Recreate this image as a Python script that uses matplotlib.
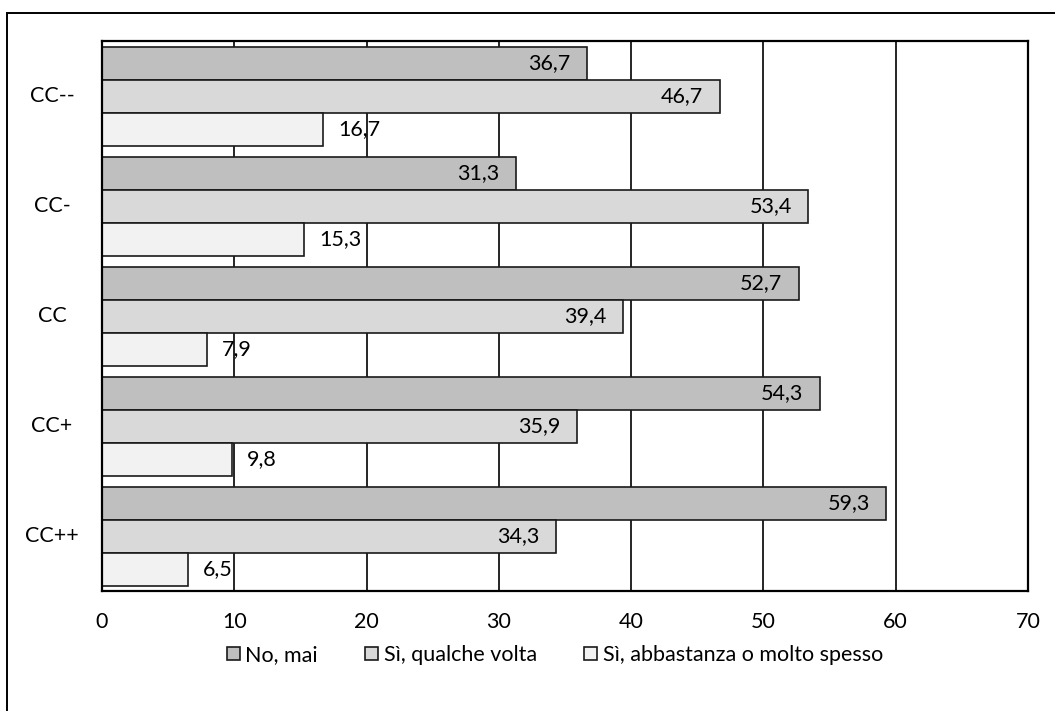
import numpy as np
import matplotlib
matplotlib.use("Agg")
import matplotlib.pyplot as plt
from matplotlib.patches import Rectangle
from matplotlib.transforms import blended_transform_factory

# -----------------------------------------------------
# Data
# -----------------------------------------------------
categories = ["CC--", "CC-", "CC", "CC+", "CC++"]
series_names = ["No, mai", "Sì, qualche volta", "Sì, abbastanza o molto spesso"]
no_mai = [36.7, 31.3, 52.7, 54.3, 59.3]
qualche_volta = [46.7, 53.4, 39.4, 35.9, 34.3]
spesso = [16.7, 15.3, 7.9, 9.8, 6.5]
x_ticks = [0, 10, 20, 30, 40, 50, 60, 70]

colors = ["#bfbfbf", "#d9d9d9", "#f2f2f2"]
FS = 15.5

plt.rcParams["font.family"] = ["Lato", "DejaVu Sans"]

fig = plt.figure(figsize=(10.55, 7.11), dpi=100)
ax = fig.add_axes([102 / 1055, 1 - 591 / 711, (1028 - 102) / 1055, (591 - 41) / 711])

# outer chart frame (cropped on right and bottom)
fig.patches.append(Rectangle((7 / 1055, -0.1), 1.2, 1 - 13 / 711 + 0.1,
                             transform=fig.transFigure, fill=False,
                             edgecolor="black", linewidth=1.4, zorder=0))

y = np.arange(len(categories))
h = 0.3
all_series = [no_mai, qualche_volta, spesso]
for i, vals in enumerate(all_series):
    pos = y + (i - 1) * h
    bars = ax.barh(pos, vals, height=h, color=colors[i], edgecolor="#1a1a1a",
                   linewidth=1.2, label=series_names[i], zorder=3)
    for b, v in zip(bars, vals):
        txt = f"{v:.1f}".replace(".", ",")
        cy = b.get_y() + b.get_height() / 2
        if i < 2:
            ax.annotate(txt, (v, cy), xytext=(-12, 0), textcoords="offset points",
                        ha="right", va="center", fontsize=FS, zorder=4)
        else:
            ax.annotate(txt, (v, cy), xytext=(11, 0), textcoords="offset points",
                        ha="left", va="center", fontsize=FS, zorder=4)

ax.set_xlim(0, 70)
ax.set_ylim(len(categories) - 0.5, -0.5)
ax.set_xticks(x_ticks)
ax.set_yticks(y)
ax.set_yticklabels([])
ax.tick_params(length=0, labelsize=FS)
ax.tick_params(axis="x", pad=15)

# category labels, centred in the left margin
tr = blended_transform_factory(fig.transFigure, ax.transData)
for yy, cat in zip(y, categories):
    ax.text(52 / 1055, yy, cat, transform=tr, ha="center", va="center",
            fontsize=FS)

ax.grid(axis="x", color="black", linewidth=1.2, zorder=1)
for s in ax.spines.values():
    s.set_linewidth(1.6)
    s.set_zorder(5)

fig.legend(loc="center", bbox_to_anchor=(555 / 1055, 1 - 655 / 711), ncol=3,
           frameon=False, fontsize=FS, handlelength=0.6, handleheight=0.6,
           handletextpad=0.25, columnspacing=2.2)

fig.savefig("out.png", dpi=100)
